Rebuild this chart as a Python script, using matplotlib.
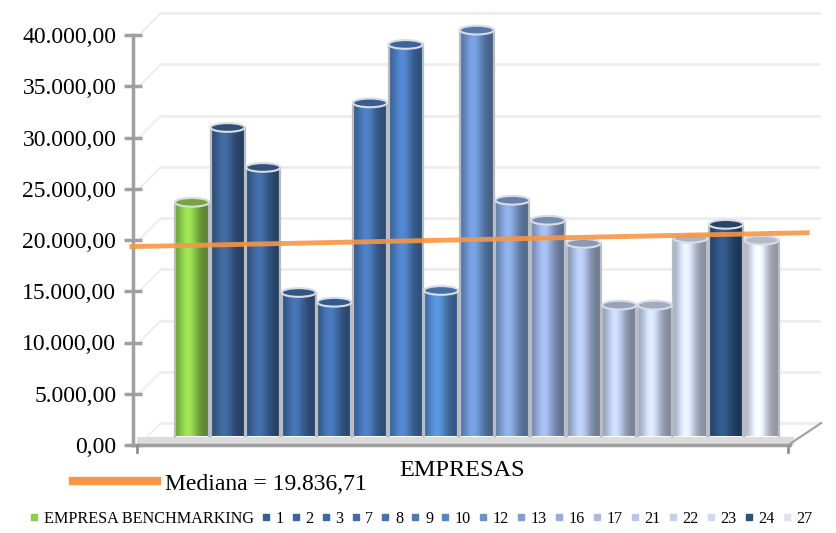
import numpy as np
import matplotlib
matplotlib.use("Agg")
import matplotlib.pyplot as plt
import matplotlib.transforms as mtrans
from matplotlib.patches import Ellipse, Rectangle
from matplotlib.lines import Line2D
import matplotlib.colors as mcolors

# ---------------- data ----------------
labels = ["EMPRESA BENCHMARKING", "1", "2", "3", "7", "8", "9", "10", "12",
          "13", "16", "17", "21", "22", "23", "24", "27"]
values = [22800, 30100, 26200, 14000, 13050, 32500, 38200, 14200, 39600,
          23000, 21050, 18800, 12770, 12770, 19300, 20650, 19100]
colors = ["#8DCB4A", "#3A6090", "#3C6499", "#3E68A2", "#416DAA", "#4573B2",
          "#4A7ABB", "#5087C8", "#6A91CB", "#7F9FD2", "#95ACD9", "#AABBDF",
          "#B8C6E5", "#C5D1EA", "#D0D9EE", "#2E527F", "#DDE3F3"]
median_value = 19836.71
median_label = "Mediana = 19.836,71"
yticks = [0, 5000, 10000, 15000, 20000, 25000, 30000, 35000, 40000]
ytick_labels = ["0,00", "5.000,00", "10.000,00", "15.000,00", "20.000,00",
                "25.000,00", "30.000,00", "35.000,00", "40.000,00"]
xlabel = "EMPRESAS"

# ---------------- figure ----------------
W, H, DPI = 836, 533, 100
fig = plt.figure(figsize=(W / DPI, H / DPI), dpi=DPI)
serif = ["Liberation Serif", "DejaVu Serif"]

ax_left, ax_right = 133, 790
y0_pix, y40_pix = 445, 35
ax = fig.add_axes([ax_left / W, (H - y0_pix) / H, (ax_right - ax_left) / W,
                   (y0_pix - y40_pix) / H])
spacing = 35.6
first_center = 192
n = len(values)
ax.set_xlim((ax_left - first_center) / spacing, (ax_right - first_center) / spacing)
ax.set_ylim(0, 40000)
for s in ax.spines.values():
    s.set_visible(False)
ax.set_xticks([])
ax.set_yticks(yticks)
ax.set_yticklabels(ytick_labels, fontfamily=serif, fontsize=17)
ax.tick_params(axis="y", direction="inout", length=13, width=2.5,
               color="#A0A0A0", pad=5.5)
ax.patch.set_alpha(0)

def off(dx, dy):
    return ax.transData + mtrans.ScaledTranslation(dx / DPI, dy / DPI, fig.dpi_scale_trans)

# back wall gridlines and side diagonals
back_dx, back_dy = 28, 22
xl, xr = ax.get_xlim()
for t in yticks:
    ax.plot([xl, xr + 1 / spacing], [t, t], transform=off(back_dx, back_dy),
            color="#EEEEEE", lw=2, clip_on=False, zorder=0.5)
inv = ax.transData.inverted()
for t in yticks:
    p0 = ax.transData.transform((xl + 6 / spacing, t))
    p1 = ax.transData.transform((xl + back_dx / spacing, t)) + np.array([0, back_dy])
    q0, q1 = inv.transform(p0), inv.transform(p1)
    ax.plot([q0[0], q1[0]], [q0[1], q1[1]], color="#EEEEEE", lw=1.5,
            clip_on=False, zorder=0.5)

# y axis line
ax.plot([xl, xl], [0, 40000], color="#A0A0A0", lw=2.5, clip_on=False, zorder=5)
# floor surface
floor = Rectangle((xl + 4 / spacing, 0), (xr - xl), 800,
                  facecolor="#DCDCDC", edgecolor="none", clip_on=False, zorder=1)
ax.add_patch(floor)
# floor front line
ax.plot([xl, xr], [0, 0], color="#A0A0A0", lw=2.5, clip_on=False, zorder=6)
# tick down at floor corners
ax.plot([xl + 0.1, xl + 0.1], [0, -650], color="#909090", lw=2, clip_on=False, zorder=6)
ax.plot([xr - 0.05, xr - 0.05], [0, -650], color="#909090", lw=2, clip_on=False, zorder=6)
# right diagonal of floor
p0 = ax.transData.transform((xr - 0.05, 0))
p1 = p0 + np.array([33, 22])
q0, q1 = inv.transform(p0), inv.transform(p1)
ax.plot([q0[0], q1[0]], [q0[1], q1[1]], color="#A0A0A0", lw=1.5, clip_on=False, zorder=6)

# ---------------- bars (cylinders) ----------------
bar_dy = 9
bw = 0.96
prof = np.linspace(0, 1, 60)
shade = 0.72 + 0.45 * np.exp(-((prof - 0.38) / 0.28) ** 2) - 0.08 * prof
top_h = 850
tb = off(0, bar_dy)
for i, (v, c) in enumerate(zip(values, colors)):
    base = np.array(mcolors.to_rgb(c))
    img = np.clip(base[None, :] * shade[:, None], 0, 1)
    img = img[None, :, :]
    x0, x1 = i - bw / 2, i + bw / 2
    im = ax.imshow(img, extent=[x0, x1, 0, v], transform=tb, aspect="auto",
                   interpolation="bilinear", zorder=3, clip_on=False)
    rect = Rectangle((x0, 0), bw, v, transform=tb, facecolor="none",
                     edgecolor="none")
    ax.add_patch(rect)
    im.set_clip_path(rect)
    ax.plot([x0, x0], [0, v], transform=tb, color="#B8BCC4", lw=1.6, zorder=3.5, clip_on=False)
    ax.plot([x1, x1], [0, v], transform=tb, color="#B8BCC4", lw=1.6, zorder=3.5, clip_on=False)
    top = Ellipse((i, v), bw, top_h, transform=tb,
                  facecolor=np.clip(base * 0.82, 0, 1), edgecolor="#D8DCE4",
                  lw=1.5, zorder=4, clip_on=False)
    ax.add_patch(top)
ax.set_xlim(xl, xr)
ax.set_ylim(0, 40000)

# ---------------- median line ----------------
mx = [xl - 0.1, xr + 0.55]
p_l = ax.transData.transform((mx[0], median_value)) + np.array([0, -5])
p_r = ax.transData.transform((mx[1], median_value)) + np.array([0, 9])
ql, qr = inv.transform(p_l), inv.transform(p_r)
ax.plot([ql[0], qr[0]], [ql[1], qr[1]], color="#F79646", lw=3.5, alpha=0.9,
        clip_on=False, zorder=8, solid_capstyle="butt")

# ---------------- texts / legends ----------------
fig.text(462 / W, 1 - 470 / H, xlabel, fontfamily=serif, fontsize=17.5,
         ha="center", va="center")
med_handle = Line2D([], [], color="#F79646", lw=6)
fig.legend([med_handle], [median_label], loc="center left",
           bbox_to_anchor=(73 / W, 1 - 484 / H), frameon=False,
           prop={"family": serif, "size": 17}, handlelength=3.56,
           handletextpad=0.34, borderaxespad=0, borderpad=0)

handles = [Line2D([], [], marker="s", color=c, linestyle="none", markersize=5)
           for c in colors]
fig.legend(handles, labels, loc="center", ncol=n,
           bbox_to_anchor=(421 / W, 1 - 519 / H), frameon=False,
           prop={"family": serif, "size": 11.6}, handlelength=0.6,
           handletextpad=0.3, columnspacing=0.45, borderaxespad=0, borderpad=0)

fig.savefig("out.png", dpi=DPI)
